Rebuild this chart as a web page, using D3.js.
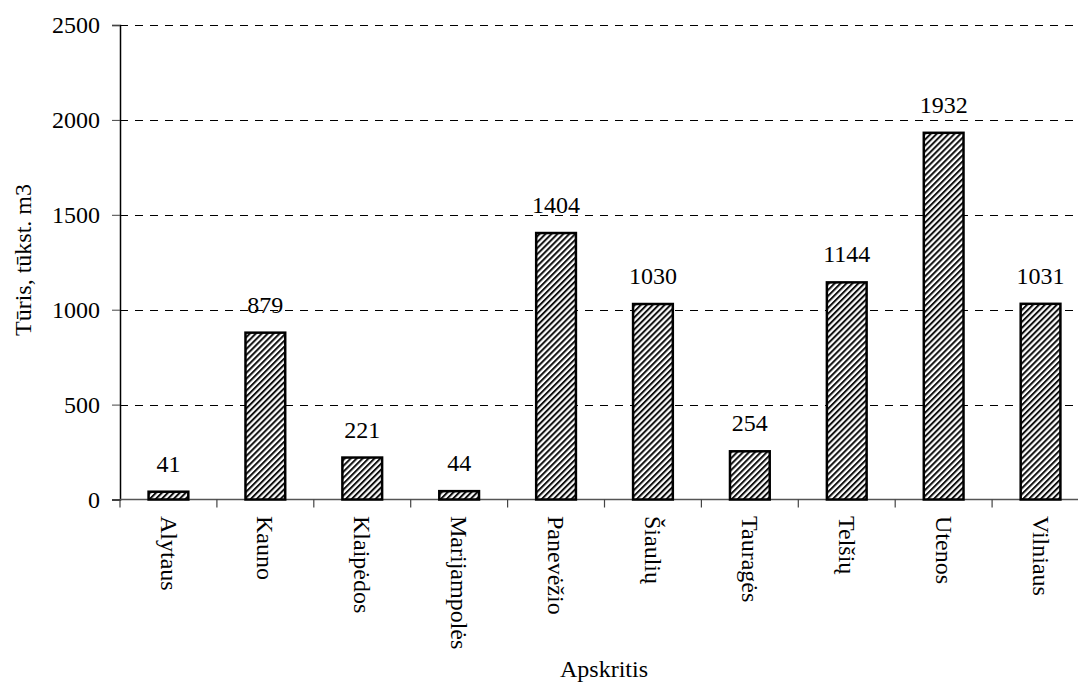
<!DOCTYPE html>
<html>
<head>
<meta charset="utf-8">
<script src="https://cdn.jsdelivr.net/npm/d3@7"></script>
<style>
  html, body { margin: 0; padding: 0; background: #fff; }
  svg { display: block; }
</style>
</head>
<body>
<svg id="chart" width="1078" height="683"></svg>
<script>
// Regions (apskritys) and timber volume, thousand m3
const regions = ["Alytaus", "Kauno", "Klaipėdos", "Marijampolės", "Panevėžio",
                 "Šiaulių", "Tauragės", "Telšių", "Utenos", "Vilniaus"];
const volumes = [41, 879, 221, 44, 1404, 1030, 254, 1144, 1932, 1031];
const yTicks = [0, 500, 1000, 1500, 2000, 2500];
const yTitle = "Tūris, tūkst. m3";
const xTitle = "Apskritis";

const FONT = "Liberation Serif";
const svg = d3.select("#chart").attr("font-family", FONT);
const plot = { left: 120, right: 1089, top: 25, bottom: 499.5 };

const x = d3.scaleBand()
  .domain(regions)
  .range([plot.left, plot.right])
  .paddingInner(0.59)
  .paddingOuter(0.295);

const y = d3.scaleLinear()
  .domain([0, 2500])
  .range([plot.bottom, plot.top]);

// Diagonal hatch fill for the bars
const defs = svg.append("defs");
const pat = defs.append("pattern")
  .attr("id", "hatch")
  .attr("patternUnits", "userSpaceOnUse")
  .attr("width", 4.2)
  .attr("height", 4.2)
  .attr("patternTransform", "rotate(45)");
pat.append("rect").attr("width", 4.2).attr("height", 4.2).attr("fill", "#fff");
pat.append("rect").attr("width", 2.0).attr("height", 4.2).attr("fill", "#111");

// Dashed horizontal grid
svg.append("g")
  .selectAll("line")
  .data(yTicks.filter(d => d > 0))
  .join("line")
  .attr("x1", plot.left)
  .attr("x2", 1078)
  .attr("y1", d => Math.round(y(d)) + 0.5)
  .attr("y2", d => Math.round(y(d)) + 0.5)
  .attr("stroke", "#000")
  .attr("stroke-width", 1)
  .attr("stroke-dasharray", "8,7");

// Y axis
const yAxis = svg.append("g")
  .attr("transform", `translate(${plot.left},0)`)
  .call(d3.axisLeft(y).tickValues(yTicks).tickSize(8).tickPadding(12).tickFormat(d3.format("d")));
yAxis.attr("font-family", FONT).attr("font-size", 24);
yAxis.select(".domain").attr("stroke", "#000").attr("stroke-width", 1.5);
yAxis.selectAll(".tick line").attr("stroke", "#444");
yAxis.selectAll(".tick text")
  .attr("font-family", FONT)
  .attr("font-size", 24)
  .attr("fill", "#000");

// X axis baseline and category ticks
const bandStep = x.step();
svg.append("line")
  .attr("x1", plot.left).attr("x2", 1078)
  .attr("y1", plot.bottom).attr("y2", plot.bottom)
  .attr("stroke", "#555").attr("stroke-width", 1.5);
svg.append("g")
  .selectAll("line")
  .data(regions)
  .join("line")
  .attr("x1", (d, i) => plot.left + i * bandStep)
  .attr("x2", (d, i) => plot.left + i * bandStep)
  .attr("y1", plot.bottom)
  .attr("y2", plot.bottom + 8)
  .attr("stroke", "#444")
  .attr("stroke-width", 1.2);

// Bars
svg.append("g")
  .selectAll("rect")
  .data(volumes)
  .join("rect")
  .attr("x", (d, i) => x(regions[i]))
  .attr("y", d => y(d))
  .attr("width", x.bandwidth())
  .attr("height", d => y(0) - y(d))
  .attr("fill", "url(#hatch)")
  .attr("stroke", "#000")
  .attr("stroke-width", 2.5);

// Value labels above bars
svg.append("g")
  .selectAll("text")
  .data(volumes)
  .join("text")
  .attr("x", (d, i) => x(regions[i]) + x.bandwidth() / 2)
  .attr("y", d => y(d) - 20)
  .attr("text-anchor", "middle")
  .attr("font-family", FONT)
  .attr("font-size", 24)
  .text(d => d);

// Category labels, rotated
svg.append("g")
  .selectAll("text")
  .data(regions)
  .join("text")
  .attr("transform", d => `translate(${x(d) + x.bandwidth() / 2},516) rotate(90)`)
  .attr("dy", "0.33em")
  .attr("text-anchor", "start")
  .attr("font-family", FONT)
  .attr("font-size", 24)
  .text(d => d);

// Axis titles
svg.append("text")
  .attr("x", 604)
  .attr("y", 677)
  .attr("text-anchor", "middle")
  .attr("font-family", FONT)
  .attr("font-size", 24)
  .text(xTitle);

svg.append("text")
  .attr("transform", "translate(31,260) rotate(-90)")
  .attr("text-anchor", "middle")
  .attr("font-family", FONT)
  .attr("font-size", 24)
  .text(yTitle);
</script>
</body>
</html>
